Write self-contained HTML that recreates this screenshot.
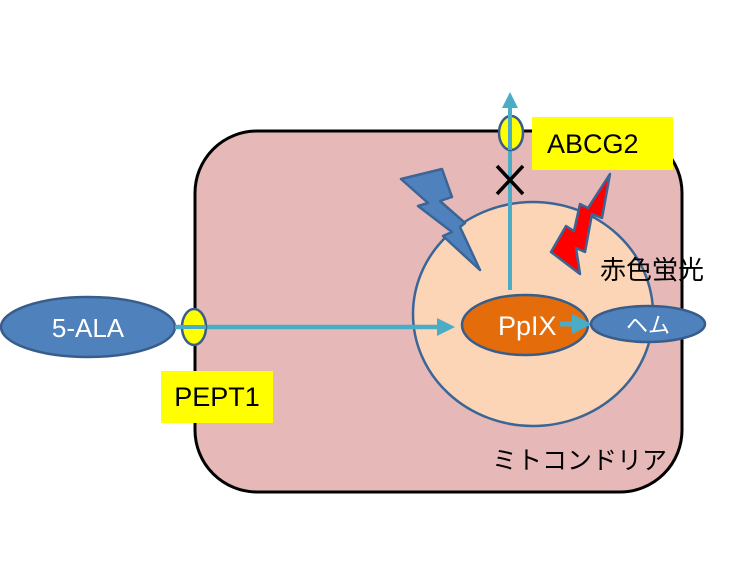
<!DOCTYPE html>
<html><head><meta charset="utf-8"><style>body{margin:0;background:#fff}svg{display:block}</style></head><body>
<svg width="750" height="562" xmlns="http://www.w3.org/2000/svg" font-family="Liberation Sans, Noto Sans CJK JP, sans-serif">
<defs><marker id="a" markerWidth="4" markerHeight="4" refX="2" refY="2" orient="auto" markerUnits="strokeWidth"><path d="M0,0L4,2L0,4z" fill="#4bacc6"/></marker></defs>
<rect x="195" y="131" width="487" height="361" rx="62" fill="#e6b9b8" stroke="#000" stroke-width="3"/>
<ellipse cx="533" cy="314" rx="120" ry="112" fill="#fbd5b5" stroke="#3b6596" stroke-width="2.5"/>
<ellipse cx="88" cy="327" rx="87" ry="30" fill="#4f81bd" stroke="#385d8a" stroke-width="2.5"/>
<text x="88" y="337" font-size="26" fill="#fff" text-anchor="middle">5-ALA</text>
<line x1="175" y1="327" x2="446" y2="327" stroke="#4bacc6" stroke-width="4.5" marker-end="url(#a)"/>
<ellipse cx="194" cy="327" rx="12" ry="18" fill="#ffff00" stroke="#385d8a" stroke-width="2.5"/>
<line x1="175" y1="327" x2="206" y2="327" stroke="#4bacc6" stroke-width="4"/>
<rect x="161" y="371" width="112" height="52" fill="#ffff00"/>
<text x="217" y="406" font-size="27" text-anchor="middle">PEPT1</text>
<line x1="510" y1="290" x2="510" y2="100" stroke="#4bacc6" stroke-width="4" marker-end="url(#a)"/>
<ellipse cx="511" cy="133" rx="12" ry="17" fill="#ffff00" stroke="#385d8a" stroke-width="2.5"/>
<line x1="510" y1="100" x2="510" y2="150" stroke="#4bacc6" stroke-width="4"/>
<rect x="532" y="117" width="141" height="53" fill="#ffff00"/>
<text x="547" y="153" font-size="27">ABCG2</text>
<path d="M497,166L523,194M523,166L497,194" stroke="#000" stroke-width="3.5"/>
<path d="M401,179L442,169L452,197L440,201L465,223L460,227L480,270L443,236L452,232L418,206L428,203Z" fill="#4f81bd" stroke="#3b6596" stroke-width="2.5" stroke-linejoin="round"/>
<path d="M610,174L602,218L592,214L585,252L576,248L580,274L551,252L566,226L574,231L580,204L588,208Z" fill="#ff0000" stroke="#3b6596" stroke-width="2.5" stroke-linejoin="round"/>
<text x="600" y="279" font-size="26">赤色蛍光</text>
<ellipse cx="525" cy="325" rx="63" ry="30" fill="#e46c0a" stroke="#385d8a" stroke-width="2.5"/>
<text x="498" y="335" font-size="27" fill="#fff">PpIX</text>
<line x1="560" y1="324" x2="582" y2="324" stroke="#4bacc6" stroke-width="5" marker-end="url(#a)"/>
<ellipse cx="648" cy="324" rx="57" ry="18" fill="#4f81bd" stroke="#385d8a" stroke-width="2.5"/>
<text x="648" y="333" font-size="22" fill="#fff" text-anchor="middle">ヘム</text>
<text x="492" y="469" font-size="25">ミトコンドリア</text>
</svg>
</body></html>
